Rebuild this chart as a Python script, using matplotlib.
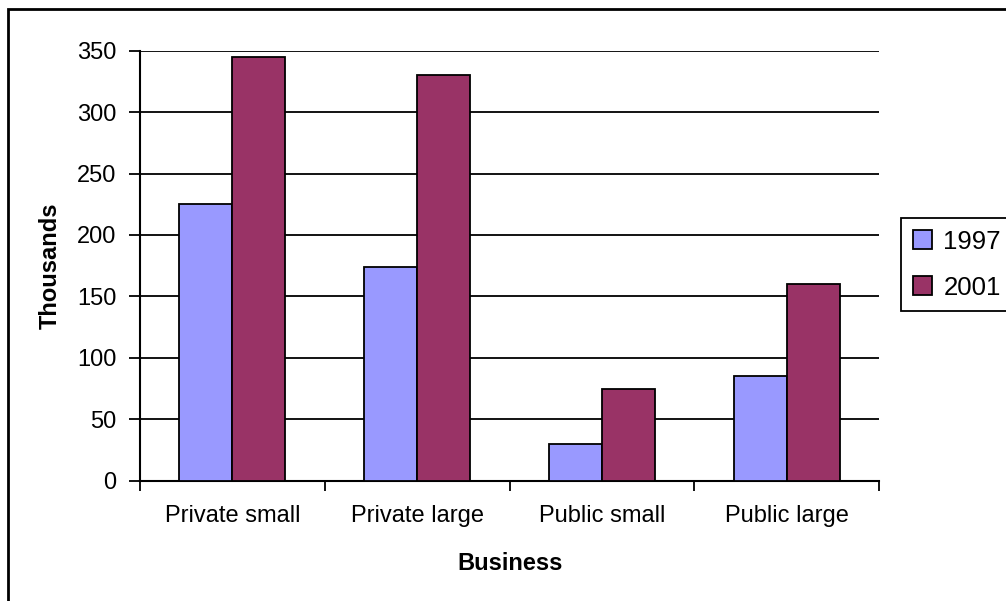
import matplotlib
matplotlib.use("Agg")
import matplotlib.pyplot as plt
from matplotlib.patches import Rectangle
import numpy as np

plt.rcParams["font.family"] = ["Liberation Sans", "DejaVu Sans"]

categories = ["Private small", "Private large", "Public small", "Public large"]
years = ["1997", "2001"]
values_1997 = [225, 174, 30, 85]
values_2001 = [345, 330, 75, 160]
y_ticks = [0, 50, 100, 150, 200, 250, 300, 350]

color_1997 = "#9999FF"
color_2001 = "#993366"

W, H = 1006, 601
fig = plt.figure(figsize=(W / 100, H / 100), dpi=100)
ax = fig.add_axes([140 / W, 1 - 480.7 / H, (879 - 140) / W, (480.7 - 50.7) / H])

x = np.arange(len(categories))
bw = 0.287
ax.bar(x - bw / 2, values_1997, bw, color=color_1997, edgecolor="black",
       linewidth=1.3, label=years[0], zorder=3)
ax.bar(x + bw / 2, values_2001, bw, color=color_2001, edgecolor="black",
       linewidth=1.3, label=years[1], zorder=3)

ax.set_xlim(-0.5, len(categories) - 0.5)
ax.set_ylim(0, 350)
ax.set_yticks(y_ticks)
ax.yaxis.grid(True, color="black", linewidth=1.3, zorder=0)
ax.set_axisbelow(True)

# category labels sit between boundary ticks
ax.set_xticks(np.arange(len(categories) + 1) - 0.5)
ax.set_xticklabels([])
ax.set_xticks(x, minor=True)
ax.set_xticklabels(categories, minor=True, fontsize=17)
ax.tick_params(axis="x", which="minor", length=0, pad=17.5)
ax.tick_params(axis="x", which="major", direction="out", length=7.5,
               width=1.3, color="black")
ax.tick_params(axis="y", direction="out", length=8, width=1.3,
               labelsize=17, pad=9)

for side in ["top", "right"]:
    ax.spines[side].set_visible(False)
for side in ["left", "bottom"]:
    ax.spines[side].set_linewidth(1.5)
    ax.spines[side].set_color("black")

fig.text(510 / W, 1 - 563 / H, "Business", fontsize=17, fontweight="bold",
         ha="center", va="center")
fig.text(50 / W, 1 - 266 / H, "Thousands", fontsize=17, fontweight="bold",
         ha="center", va="center", rotation=90)

leg = ax.legend(loc="upper left", bbox_to_anchor=(901 / W, 1 - 218.3 / H),
                bbox_transform=fig.transFigure, borderaxespad=0,
                fontsize=18.5, frameon=True, fancybox=False,
                framealpha=1, handlelength=0.75, handleheight=0.75,
                handletextpad=0.45, labelspacing=0.85, borderpad=0.45)
frame = leg.get_frame()
frame.set_linewidth(1.3)
frame.set_edgecolor("black")
for h in leg.legend_handles:
    h.set_linewidth(1.3)

# outer chart frame
fig.patches.append(Rectangle((8 / W, -0.05), 1.1, 1 - 9 / H + 0.05,
                             transform=fig.transFigure, fill=False,
                             edgecolor="black", linewidth=2, zorder=10))

fig.savefig("out.png", dpi=100)
